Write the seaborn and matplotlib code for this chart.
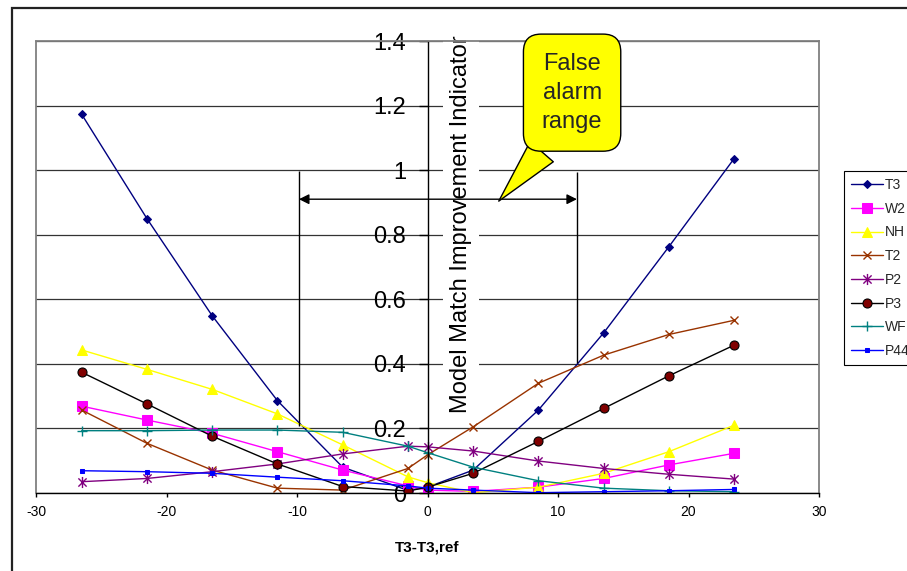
import numpy as np
import pandas as pd
import matplotlib
matplotlib.use("Agg")
import matplotlib.pyplot as plt
import seaborn as sns
from matplotlib.path import Path
from matplotlib.patches import Rectangle

# ---------------- data ----------------
x_vals = [-26.5, -21.5, -16.5, -11.5, -6.5, -1.5, 0, 3.5, 8.5, 13.5, 18.5, 23.5]
series_names = ["T3", "W2", "NH", "T2", "P2", "P3", "WF", "P44"]
t3 = [1.173, 0.850, 0.549, 0.286, 0.080, 0.008, 0.018, 0.071, 0.257, 0.496, 0.763, 1.036]
w2 = [0.269, 0.226, 0.185, 0.128, 0.071, 0.022, 0.009, 0.005, 0.018, 0.045, 0.087, 0.123]
nh = [0.443, 0.383, 0.321, 0.245, 0.149, 0.050, 0.032, 0.001, 0.018, 0.061, 0.128, 0.210]
t2 = [0.257, 0.154, 0.071, 0.015, 0.009, 0.076, 0.118, 0.205, 0.340, 0.427, 0.491, 0.535]
p2 = [0.035, 0.045, 0.066, 0.090, 0.121, 0.145, 0.143, 0.130, 0.099, 0.076, 0.058, 0.043]
p3 = [0.374, 0.276, 0.176, 0.090, 0.020, 0.006, 0.018, 0.061, 0.160, 0.262, 0.363, 0.458]
wf = [0.193, 0.193, 0.195, 0.195, 0.188, 0.145, 0.125, 0.080, 0.038, 0.015, 0.007, 0.004]
p44 = [0.069, 0.066, 0.061, 0.049, 0.038, 0.022, 0.015, 0.009, 0.001, 0.004, 0.007, 0.011]
series_values = [t3, w2, nh, t2, p2, p3, wf, p44]

x_ticks = [-30, -20, -10, 0, 10, 20, 30]
y_ticks = [0, 0.2, 0.4, 0.6, 0.8, 1.0, 1.2, 1.4]
y_tick_labels = ["0", "0.2", "0.4", "0.6", "0.8", "1", "1.2", "1.4"]

# false alarm range annotation
range_left, range_right = -9.85, 11.45
callout_text = "False\nalarm\nrange"

# ---------------- style ----------------
sns.set_theme(style="white")
plt.rcParams["font.family"] = ["Liberation Sans", "DejaVu Sans"]

asterisk = Path(
    [(-1, -1), (1, 1), (-1, 1), (1, -1), (0, -1.35), (0, 1.35)],
    [Path.MOVETO, Path.LINETO, Path.MOVETO, Path.LINETO, Path.MOVETO, Path.LINETO],
)

styles = {
    "T3": dict(color="#000080", marker="D", markersize=4.5, markerfacecolor="#000080", markeredgecolor="#000080"),
    "W2": dict(color="#FF00FF", marker="s", markersize=6.5, markerfacecolor="#FF00FF", markeredgecolor="#FF00FF"),
    "NH": dict(color="#FFFF00", marker="^", markersize=7, markerfacecolor="#FFFF00", markeredgecolor="#FFFF00"),
    "T2": dict(color="#993300", marker="x", markersize=6, markerfacecolor="none", markeredgecolor="#993300", markeredgewidth=1),
    "P2": dict(color="#800080", marker=asterisk, markersize=8, markerfacecolor="none", markeredgecolor="#800080", markeredgewidth=1),
    "P3": dict(color="black", marker="o", markersize=6.5, markerfacecolor="#800000", markeredgecolor="black", markeredgewidth=0.8),
    "WF": dict(color="#008080", marker="+", markersize=7, markerfacecolor="none", markeredgecolor="#008080", markeredgewidth=1),
    "P44": dict(color="#0000FF", marker="s", markersize=3.5, markerfacecolor="#0000FF", markeredgecolor="#0000FF"),
}

df = pd.DataFrame({"x": x_vals})
for name, vals in zip(series_names, series_values):
    df[name] = vals

fig = plt.figure(figsize=(9.07, 5.71), dpi=100)
ax = fig.add_axes([36 / 907, 78 / 571, 783 / 907, 452 / 571])

for name in series_names:
    st = dict(styles[name])
    if "markeredgewidth" not in st:
        st["markeredgewidth"] = 0.75
    sns.lineplot(data=df, x="x", y=name, ax=ax, label=name, linewidth=1.0,
                 sort=False, **st)

ax.set_xlim(-30, 30)
ax.set_ylim(0, 1.4)
ax.set_xticks(x_ticks)
ax.set_xticklabels([str(v) for v in x_ticks])
ax.set_yticks(y_ticks)
ax.set_yticklabels(y_tick_labels)

ax.spines["left"].set_position(("data", 0))
ax.spines["left"].set_color("black")
ax.spines["left"].set_linewidth(1.0)
ax.spines["bottom"].set_color("black")
ax.spines["bottom"].set_linewidth(1.0)
for s in ("top", "right"):
    ax.spines[s].set_color("#808080")
    ax.spines[s].set_linewidth(1.3)
ax.axvline(-30, color="#808080", lw=1.3, clip_on=False, zorder=0.6)

ax.set_axisbelow(True)
ax.yaxis.grid(True, color="#333333", linewidth=0.9)
ax.xaxis.grid(False)

ax.tick_params(axis="y", direction="out", length=6.5, width=1, labelsize=17,
               pad=9, colors="black", left=True)
ax.tick_params(axis="x", direction="out", length=3, width=1, labelsize=10,
               pad=5.5, colors="black", bottom=True)

ax.set_ylabel("")
ax.set_xlabel("T3-T3,ref", fontsize=11, fontweight="bold", color="black")
ax.xaxis.set_label_coords(0.5, -0.104)

ax.text(2.54, 0.833, "Model Match Improvement Indicator", rotation=90,
        ha="center", va="center", fontsize=17, color="black", zorder=1,
        bbox=dict(boxstyle="square,pad=0.3", fc="white", ec="none"))

# false alarm range markers
ax.vlines(range_left, 0.207, 0.997, color="black", lw=1, zorder=4)
ax.vlines(range_right, 0.402, 0.995, color="black", lw=1, zorder=4)
ax.annotate("", xy=(range_left, 0.91), xytext=(range_right, 0.91),
            arrowprops=dict(arrowstyle="<|-|>", color="black", lw=1,
                            shrinkA=0, shrinkB=0, mutation_scale=15),
            zorder=4)

ax.annotate(callout_text, xy=(5.46, 0.904), xytext=(11.08, 1.24),
            ha="center", va="center", fontsize=17, linespacing=1.42,
            annotation_clip=False, zorder=6,
            bbox=dict(boxstyle="round,pad=0.78,rounding_size=0.75",
                      fc="#FFFF00", ec="black", lw=1),
            arrowprops=dict(arrowstyle="wedge,tail_width=1.3,shrink_factor=0.5",
                            fc="#FFFF00", ec="black", lw=1,
                            relpos=(0.27, 0.0), shrinkA=0, shrinkB=0))

leg = ax.legend(loc="upper left", bbox_to_anchor=(844 / 907, 1 - 171 / 571),
                bbox_transform=fig.transFigure, frameon=True, fancybox=False,
                edgecolor="black", fontsize=10, handlelength=2.3,
                handletextpad=0.15, labelspacing=0.7, borderpad=0.5,
                borderaxespad=0, framealpha=1)
leg.get_frame().set_linewidth(0.8)

fig.patches.append(Rectangle((12 / 907, -0.1), 1.2, 1.1 - 7.5 / 571,
                             transform=fig.transFigure, fill=False,
                             ec="#222222", lw=1.6))

fig.savefig("out.png", dpi=100)
